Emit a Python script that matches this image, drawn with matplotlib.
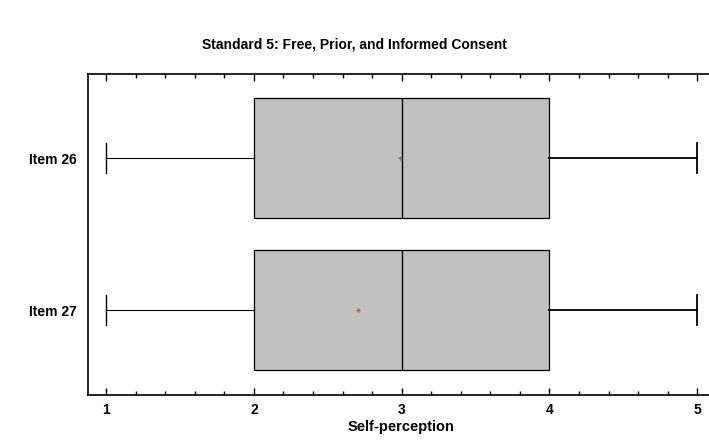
import matplotlib
matplotlib.use("Agg")
import matplotlib.pyplot as plt
from matplotlib.ticker import MultipleLocator

plt.rcParams["font.family"] = ["Liberation Sans", "DejaVu Sans"]

items = ["Item 26", "Item 27"]
mins = [1, 1]
q1s = [2, 2]
medians = [3, 3]
q3s = [4, 4]
maxs = [5, 5]
means = [2.99, 2.705]

stats = []
for name, lo, a, m, b, hi, mu in zip(items, mins, q1s, medians, q3s, maxs, means):
    stats.append({"label": name, "whislo": lo, "q1": a, "med": m, "q3": b,
                  "whishi": hi, "mean": mu, "fliers": []})

fig = plt.figure(figsize=(7.09, 4.48), dpi=100)
ax = fig.add_axes([0.1241, 0.1183, 0.8844, 0.7165])

pos = list(range(len(items)))
parts = ax.bxp(stats, positions=pos, vert=False, widths=0.79, patch_artist=True,
               showmeans=True, capwidths=0.2,
               boxprops={"facecolor": "#c0c0c0", "edgecolor": "black", "linewidth": 0.9},
               medianprops={"color": "black", "linewidth": 1.0},
               whiskerprops={"color": "black", "linewidth": 0.8},
               capprops={"color": "black", "linewidth": 1.0},
               meanprops={"marker": "+", "markeredgecolor": "#b5651d",
                          "markersize": 3, "markeredgewidth": 1.0})
# upper whiskers are drawn heavier than the lower ones
for w in parts["whiskers"][1::2]:
    w.set_linewidth(1.3)
for c in parts["caps"][1::2]:
    c.set_linewidth(1.3)

ax.set_xlim(0.878, 5.12)
ax.set_ylim(1.56, -0.555)
ax.set_yticks(pos)
ax.set_yticklabels(items, fontsize=10, fontweight="bold")
ax.tick_params(axis="y", length=0, pad=8)

ax.xaxis.set_major_locator(MultipleLocator(1))
ax.xaxis.set_minor_locator(MultipleLocator(0.2))
ax.tick_params(axis="x", which="major", direction="in", length=5, width=1,
               top=True, labelsize=10, pad=6)
ax.tick_params(axis="x", which="minor", direction="in", length=3, width=1, top=True)
for lab in ax.get_xticklabels():
    lab.set_fontweight("bold")

for s in ax.spines.values():
    s.set_linewidth(1.2)

ax.set_xlabel("Self-perception", fontsize=10.5, fontweight="bold", labelpad=2)
fig.text(0.5, 0.900, "Standard 5: Free, Prior, and Informed Consent",
         ha="center", va="center", fontsize=10, fontweight="bold")

fig.savefig("out.png", dpi=100)
